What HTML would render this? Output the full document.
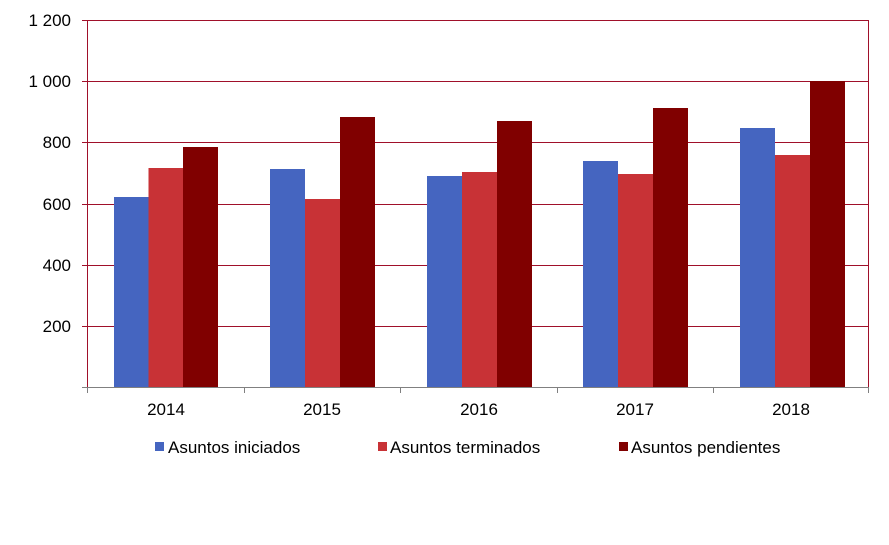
<!DOCTYPE html>
<html><head><style>
body{margin:0;background:#fff;}
text{font-family:"Liberation Sans",Arial,sans-serif;fill:#000;}
</style></head><body>
<svg width="889" height="540" xmlns="http://www.w3.org/2000/svg">
<rect width="889" height="540" fill="#fff"/>
<g stroke="#A0102A" stroke-width="1">
<line x1="82" y1="20.5" x2="869" y2="20.5"/>
<line x1="82" y1="81.5" x2="869" y2="81.5"/>
<line x1="82" y1="142.5" x2="869" y2="142.5"/>
<line x1="82" y1="204.5" x2="869" y2="204.5"/>
<line x1="82" y1="265.5" x2="869" y2="265.5"/>
<line x1="82" y1="326.5" x2="869" y2="326.5"/>
<line x1="87.5" y1="20" x2="87.5" y2="387"/>
<line x1="868.5" y1="20" x2="868.5" y2="387"/>
</g>
<g>
<rect x="114" y="197" width="34.5" height="190" fill="#4565C0"/>
<rect x="148.5" y="168" width="34.5" height="219" fill="#C83236"/>
<rect x="183" y="147" width="35" height="240" fill="#800000"/>
<rect x="270" y="169" width="35" height="218" fill="#4565C0"/>
<rect x="305" y="199" width="35" height="188" fill="#C83236"/>
<rect x="340" y="117" width="35" height="270" fill="#800000"/>
<rect x="427" y="176" width="35" height="211" fill="#4565C0"/>
<rect x="462" y="172" width="35" height="215" fill="#C83236"/>
<rect x="497" y="121" width="35" height="266" fill="#800000"/>
<rect x="583" y="161" width="35" height="226" fill="#4565C0"/>
<rect x="618" y="174" width="35" height="213" fill="#C83236"/>
<rect x="653" y="108" width="35" height="279" fill="#800000"/>
<rect x="740" y="128" width="35" height="259" fill="#4565C0"/>
<rect x="775" y="155" width="35" height="232" fill="#C83236"/>
<rect x="810" y="81" width="35" height="306" fill="#800000"/>
</g>
<g stroke="#808080" stroke-width="1">
<line x1="82" y1="387.5" x2="869" y2="387.5"/>
<line x1="87.5" y1="387" x2="87.5" y2="393"/>
<line x1="244.5" y1="387" x2="244.5" y2="393"/>
<line x1="400.5" y1="387" x2="400.5" y2="393"/>
<line x1="557.5" y1="387" x2="557.5" y2="393"/>
<line x1="713.5" y1="387" x2="713.5" y2="393"/>
<line x1="868.5" y1="387" x2="868.5" y2="393"/>
</g>
<g font-size="17" text-anchor="end">
<text x="71" y="26">1 200</text>
<text x="71" y="87">1 000</text>
<text x="71" y="148">800</text>
<text x="71" y="210">600</text>
<text x="71" y="271">400</text>
<text x="71" y="332">200</text>
</g>
<g font-size="17" text-anchor="middle">
<text x="166" y="415">2014</text>
<text x="322" y="415">2015</text>
<text x="479" y="415">2016</text>
<text x="635" y="415">2017</text>
<text x="791" y="415">2018</text>
</g>
<g font-size="17">
<rect x="155" y="442" width="9" height="9" fill="#4565C0"/>
<text x="168" y="453">Asuntos iniciados</text>
<rect x="378" y="442" width="9" height="9" fill="#C83236"/>
<text x="390" y="453">Asuntos terminados</text>
<rect x="619" y="442" width="9" height="9" fill="#800000"/>
<text x="631" y="453">Asuntos pendientes</text>
</g>
</svg>
</body></html>
